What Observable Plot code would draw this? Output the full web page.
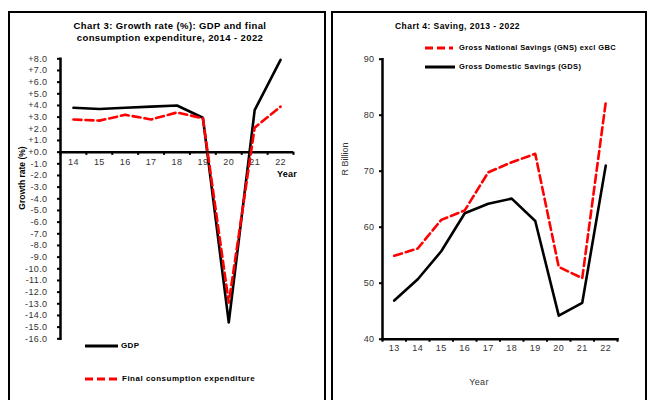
<!DOCTYPE html>
<html><head><meta charset="utf-8">
<script src="https://cdn.jsdelivr.net/npm/d3@7"></script>
<script src="https://cdn.jsdelivr.net/npm/@observablehq/plot@0.6"></script>
<style>
body{margin:0;width:649px;height:400px;overflow:hidden;background:#fff;font-family:"Liberation Sans",Arial,sans-serif;}
#wrap{position:relative;width:649px;height:400px;overflow:hidden;}
.panel{position:absolute;box-sizing:border-box;border:2px solid #000;border-bottom:none;height:430px;}
.t{position:absolute;white-space:nowrap;color:#000;line-height:1;}
.svgbox{position:absolute;top:0;}
.svgbox svg{overflow:visible;}
</style></head>
<body><div id="wrap">
<div class="panel" style="left:8px;top:11px;width:318px;"></div>
<div class="panel" style="left:331px;top:11px;width:316px;"></div>
<div class="svgbox" id="c3" style="left:0px;"></div>
<div class="svgbox" id="c4" style="left:325px;"></div>
</div>
<script>
// Chart 3 data
const years3 = [14, 15, 16, 17, 18, 19, 20, 21, 22];
const gdp = [3.8, 3.7, 3.8, 3.9, 4.0, 2.95, -14.6, 3.6, 7.9];
const fce = [2.8, 2.7, 3.2, 2.8, 3.4, 2.9, -12.9, 2.1, 3.9];
const yTicks3 = d3.range(-16, 9, 1);
// Chart 4 data
const years4 = [13, 14, 15, 16, 17, 18, 19, 20, 21, 22];
const gns = [54.9, 56.2, 61.3, 63.0, 69.8, 71.6, 73.1, 52.9, 50.9, 82.3];
const gds = [46.9, 50.7, 55.7, 62.5, 64.2, 65.1, 61.1, 44.2, 46.5, 71.0];
const yTicks4 = [40, 50, 60, 70, 80, 90];

const RED = "#ff0000";
const DASH = "8,4";
const bounds = ys => [ys[0] - 0.5, ...ys.map(y => y + 0.5)];
const fmt3 = d => (d >= 0 ? "+" : "-") + Math.abs(d).toFixed(1);
const rows3 = years3.map((y, i) => ({year: y, gdp: gdp[i], fce: fce[i]}));
const rows4 = years4.map((y, i) => ({year: y, gns: gns[i], gds: gds[i]}));
const st = {fontFamily: "Liberation Sans, Arial, sans-serif", fontSize: "9px", letterSpacing: "0.4px", background: "transparent", overflow: "visible"};

const p3 = Plot.plot({
  width: 325, height: 400,
  marginLeft: 60, marginRight: 32, marginTop: 58.3, marginBottom: 61.7,
  x: {domain: [13.5, 22.5], axis: null},
  y: {domain: [-16, 8], axis: null},
  style: st,
  marks: [
    Plot.axisY(yTicks3, {tickSize: 3, tickPadding: 10, tickFormat: fmt3, stroke: "#000", strokeWidth: 2, fill: "#333"}),
    Plot.frame({anchor: "left", stroke: "#000", strokeWidth: 2.5}),
    Plot.ruleY([0], {stroke: "#000", strokeWidth: 2.5}),
    Plot.ruleX(bounds(years3), {x: d => d, y1: 0, y2: -0.28, stroke: "#000", strokeWidth: 2}),
    Plot.text(years3, {x: d => d, y: 0, dy: 10, text: d => String(d), fill: "#333", lineAnchor: "middle"}),
    Plot.line(rows3, {x: "year", y: "gdp", stroke: "#000", strokeWidth: 2.6}),
    Plot.line(rows3, {x: "year", y: "fce", stroke: RED, strokeWidth: 2.6, strokeDasharray: DASH})
  ]
});
document.getElementById("c3").append(p3);

const p4 = Plot.plot({
  width: 324, height: 400,
  marginLeft: 57, marginRight: 32, marginTop: 58.7, marginBottom: 61.3,
  x: {domain: [12.5, 22.5], axis: null},
  y: {domain: [40, 90], axis: null},
  style: st,
  marks: [
    Plot.axisY(yTicks4, {tickSize: 3, tickPadding: 5, stroke: "#000", strokeWidth: 2, fill: "#333"}),
    Plot.frame({anchor: "left", stroke: "#000", strokeWidth: 2.5}),
    Plot.frame({anchor: "bottom", stroke: "#000", strokeWidth: 2.5}),
    Plot.ruleX(bounds(years4), {x: d => d, y1: 40, y2: 39.45, stroke: "#000", strokeWidth: 2}),
    Plot.text(years4, {x: d => d, y: 40, dy: 9, text: d => String(d), fill: "#333", lineAnchor: "middle"}),
    Plot.line(rows4, {x: "year", y: "gds", stroke: "#000", strokeWidth: 2.6}),
    Plot.line(rows4, {x: "year", y: "gns", stroke: RED, strokeWidth: 2.6, strokeDasharray: DASH})
  ]
});
document.getElementById("c4").append(p4);

// text labels
const wrap = document.getElementById("wrap");
function label(txt, x, y, o = {}) {
  const d = document.createElement("div");
  d.className = "t";
  d.textContent = txt;
  d.style.left = x + "px";
  d.style.top = y + "px";
  d.style.fontSize = (o.size || 9) + "px";
  d.style.fontWeight = o.bold ? "bold" : "normal";
  d.style.color = o.color || "#000";
  if (o.ls) d.style.letterSpacing = o.ls + "px";
  let tr = o.anchor === "middle" ? "translate(-50%,-50%)" : o.anchor === "end" ? "translate(-100%,-50%)" : "translate(0,-50%)";
  if (o.rotate) tr = "translate(-50%,-50%) rotate(-90deg)";
  d.style.transform = tr;
  wrap.append(d);
}
function swatch(x1, x2, y, color, dash) {
  const s = d3.create("svg").attr("width", x2 - x1).attr("height", 6)
    .style("position", "absolute").style("left", x1 + "px").style("top", (y - 3) + "px");
  s.append("line").attr("x1", 0).attr("x2", x2 - x1).attr("y1", 3).attr("y2", 3)
    .attr("stroke", color).attr("stroke-width", 3).attr("stroke-dasharray", dash || null);
  wrap.append(s.node());
}
// Chart 3 texts
label("Chart 3: Growth rate (%): GDP and final", 170, 26, {bold: true, size: 9.5, anchor: "middle", ls: 0.4});
label("consumption expenditure, 2014 - 2022", 170, 37.5, {bold: true, size: 9.5, anchor: "middle", ls: 0.4});
label("Growth rate (%)", 22, 178, {bold: true, size: 8.5, rotate: true});
label("Year", 287, 174, {bold: true, size: 9, anchor: "middle", ls: 0.3});
swatch(85, 118, 346, "#000");
label("GDP", 121, 346, {bold: true, size: 8, ls: 0.4});
swatch(85, 118, 379, RED, DASH);
label("Final consumption expenditure", 122, 379, {bold: true, size: 8, ls: 0.5});
// Chart 4 texts
label("Chart 4: Saving, 2013 - 2022", 395, 26, {bold: true, size: 8.5, ls: 0.45});
swatch(425, 453, 48.3, RED, DASH);
label("Gross National Savings (GNS) excl GBC", 459, 48.3, {bold: true, size: 7.5, ls: 0.38});
swatch(425, 455, 66.7, "#000");
label("Gross Domestic Savings (GDS)", 459, 66.7, {bold: true, size: 7.5, ls: 0.38});
label("R Billion", 345, 159, {size: 9, color: "#333", rotate: true});
label("Year", 479, 382, {size: 9, color: "#333", anchor: "middle", ls: 0.3});
</script>
</body></html>
